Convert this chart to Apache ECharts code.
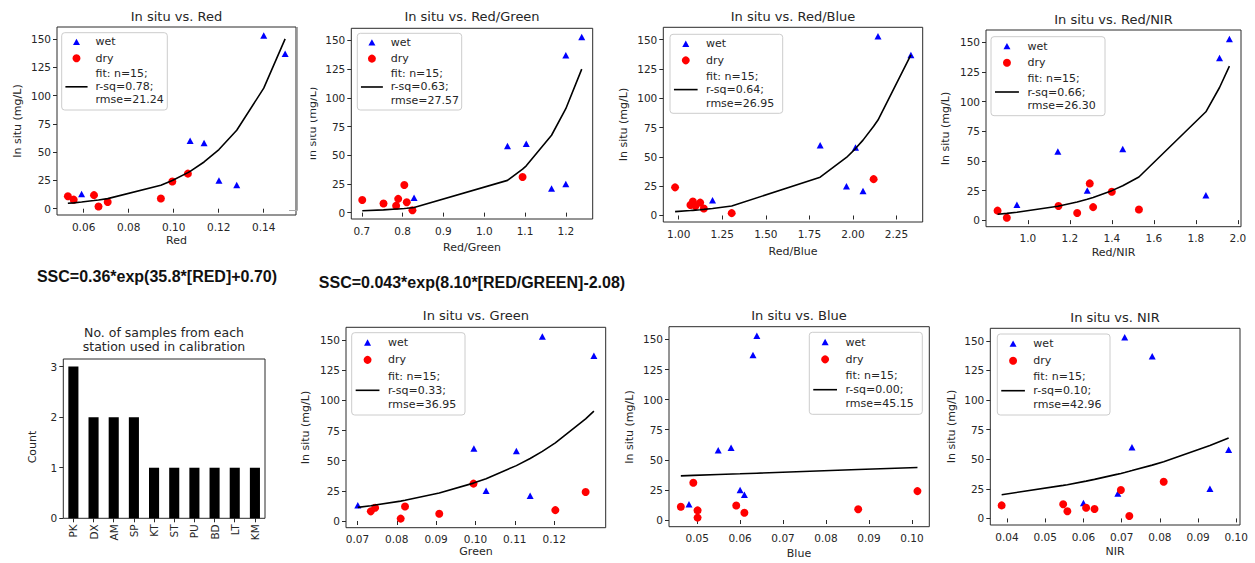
<!DOCTYPE html>
<html><head><meta charset="utf-8">
<script src="https://cdn.jsdelivr.net/npm/echarts@6/dist/echarts.min.js"></script>
<style>html,body{margin:0;padding:0;background:#fff}#c{width:1255px;height:563px}</style>
</head><body><div id="c"></div>
<script>
// ================= DATA =================
const yTicks = ['0','25','50','75','100','125','150'];

// In situ vs. Red
const redTicks = ['0.06','0.08','0.10','0.12','0.14'];
const redWetX = [0.0591,0.1073,0.1135,0.1201,0.1280,0.1400,0.1495];
const redWetY = [13,60,58,25,21,153,137];
const redDryX = [0.0530,0.0556,0.0646,0.0666,0.0707,0.0943,0.0994,0.1063];
const redDryY = [11,8,12,2,6,9,24,31];
const redFitX = [0.0530,0.0556,0.0591,0.0646,0.0666,0.0707,0.0943,0.0994,0.1063,0.1073,0.1135,0.1201,0.1280,0.1400,0.1495];
const redFitY = [4.8,5.2,5.9,7.2,7.7,8.9,20.8,24.9,31.9,33.0,41.3,52.3,69.3,106.5,150.0];

// In situ vs. Red/Green
const rgTicks = ['0.7','0.8','0.9','1.0','1.1','1.2'];
const rgWetX = [0.828,1.057,1.103,1.165,1.200,1.200,1.239];
const rgWetY = [13,58,60,21,25,137,153];
const rgDryX = [0.701,0.753,0.784,0.789,0.804,0.810,0.824,1.094];
const rgDryY = [11,8,6,12,24,9,2,31];
const rgFitX = [0.701,0.753,0.784,0.789,0.804,0.810,0.824,0.828,1.057,1.094,1.103,1.165,1.200,1.239];
const rgFitY = [1.6,2.4,3.1,3.2,3.6,3.8,4.3,4.4,28.1,37.9,40.8,67.4,90.5,125.0];

// In situ vs. Red/Blue
const rbTicks = ['1.00','1.25','1.50','1.75','2.00','2.25'];
const rbWetX = [1.194,1.812,2.015,1.963,2.058,2.144,2.333];
const rbWetY = [13,60,58,25,21,153,137];
const rbDryX = [0.979,1.067,1.081,1.096,1.123,1.144,1.304,2.119];
const rbDryY = [24,9,12,8,11,6,2,31];
const rbFitX = [0.979,1.067,1.081,1.096,1.123,1.144,1.194,1.304,1.812,1.963,2.015,2.058,2.119,2.144,2.333];
const rbFitY = [3.3,4.2,4.4,4.6,4.9,5.2,6.0,8.1,32.7,49.5,57.1,64.3,76.1,81.4,137.1];

// In situ vs. Red/NIR
const rnTicks = ['1.0','1.2','1.4','1.6','1.8','2.0'];
const rnWetX = [0.948,1.143,1.283,1.452,1.848,1.913,1.960];
const rnWetY = [13,58,25,60,21,137,153];
const rnDryX = [0.856,0.900,1.146,1.235,1.295,1.311,1.400,1.529];
const rnDryY = [8,2,12,6,31,11,24,9];
const rnFitX = [0.856,0.900,0.948,1.143,1.146,1.235,1.283,1.295,1.311,1.400,1.452,1.529,1.848,1.913,1.960];
const rnFitY = [5.0,5.7,6.6,11.7,11.8,15.3,17.6,18.3,19.2,24.9,29.0,36.4,91.5,112.0,130.0];

// In situ vs. Green
const gTicks = ['0.07','0.08','0.09','0.10','0.11','0.12'];
const gWetX = [0.0701,0.0996,0.1027,0.1104,0.1139,0.1170,0.1301];
const gWetY = [13,60,25,58,21,153,137];
const gDryX = [0.0734,0.0745,0.0810,0.0821,0.0908,0.0995,0.1203,0.1280];
const gDryY = [8,11,2,12,6,31,9,24];
const gFitX = [0.0701,0.0734,0.0745,0.0810,0.0821,0.0908,0.0995,0.1027,0.1104,0.1139,0.1170,0.1203,0.1280,0.1301];
const gFitY = [11.3,12.7,13.2,16.5,17.2,23.2,31.4,35.1,45.9,51.8,57.7,64.8,84.7,91.1];

// In situ vs. Blue
const bTicks = ['0.05','0.06','0.07','0.08','0.09','0.10'];
const bWetX = [0.0481,0.0549,0.0579,0.0600,0.0610,0.0630,0.0639];
const bWetY = [13,58,60,25,21,137,153];
const bDryX = [0.0462,0.0491,0.0501,0.0501,0.0591,0.0610,0.0875,0.1013];
const bDryY = [11,31,8,2,12,6,9,24];
const bFitX = [0.0462,0.0491,0.0549,0.0600,0.0639,0.0875,0.1013];
const bFitY = [36.7,37.1,37.8,38.4,38.9,41.9,43.6];

// In situ vs. NIR
const nTicks = ['0.04','0.05','0.06','0.07','0.08','0.09','0.10'];
const nWetX = [0.0600,0.0690,0.0708,0.0727,0.0780,0.0931,0.0980];
const nWetY = [13,21,153,60,137,25,58];
const nDryX = [0.0386,0.0547,0.0558,0.0607,0.0629,0.0698,0.0720,0.0810];
const nDryY = [11,12,6,9,8,24,2,31];
const nFitX = [0.0386,0.0547,0.0558,0.0600,0.0607,0.0629,0.0690,0.0698,0.0708,0.0720,0.0727,0.0780,0.0810,0.0931,0.0980];
const nFitY = [20.0,27.9,28.5,31.1,31.5,33.0,37.4,38.0,38.8,39.8,40.4,45.0,47.9,61.5,68.0];

// Fit statistics
const fitN = ['15','15','15','15','15','15','15'];
const fitRsq = ['0.78','0.63','0.64','0.66','0.33','0.00','0.10'];
const fitRmse = ['21.24','27.57','26.95','26.30','36.95','45.15','42.96'];

// Bar chart
const stations = ['PK','DX','AM','SP','KT','ST','PU','BD','LT','KM'];
const stationCounts = [3,2,2,2,1,1,1,1,1,1];
const countTicks = ['0','1','2','3'];

// Texts
const panelTitles = ['In situ vs. Red','In situ vs. Red/Green','In situ vs. Red/Blue','In situ vs. Red/NIR','In situ vs. Green','In situ vs. Blue','In situ vs. NIR'];
const xNames = ['Red','Red/Green','Red/Blue','Red/NIR','Green','Blue','NIR'];
const yName = 'In situ (mg/L)';
const barTitle = ['No. of samples from each','station used in calibration'];
const barYName = 'Count';
const equations = ['SSC=0.36*exp(35.8*[RED]+0.70)','SSC=0.043*exp(8.10*[RED/GREEN]-2.08)'];

// ================= LAYOUT / STYLE =================
const FONT = 'DejaVu Sans';
const TXT = '#262626';
const AX = '#2a2a2a';
const layout = {
  grids: [
    {left:57, top:27, width:239, height:188},
    {left:351.3, top:28.3, width:241.4, height:190.7},
    {left:663.3, top:27.3, width:259.4, height:194.7},
    {left:986, top:30, width:255, height:196.7},
    {left:346, top:327.3, width:259.7, height:200.4},
    {left:669, top:326.7, width:260.3, height:200},
    {left:990.3, top:328.3, width:249.7, height:196.7},
    {left:63.3, top:359, width:201.7, height:159.3}
  ],
  titles: [[176.5,16],[472,16.7],[793,16.7],[1113.5,19.3],[475.9,315],[799,315],[1115,317.7]],
  xNames: [[176.5,240.5],[472,247],[793,251],[1113.5,252],[476,551.7],[799,553],[1115,551.7]],
  yNames: [[17,121],[312,123.5],[623.3,124.5],[945,128.5],[305,427.5],[629.3,427],[951.7,426.5]],
  legends: [
    [61.7,32.7,105.6,77.3],[357.3,33.3,104.4,76.7],[670,34.3,112.7,79],[991,36.7,114,79],
    [351.7,332.7,113.3,82.3],[809.3,332.3,113,82],[997.3,334,112.7,81]
  ],
  barTitle: [164,332,346.5],
  barYName: [32,447],
  equations: [[157,276],[472,282]]
};

const sets = [
  {wx:redWetX,wy:redWetY,dx:redDryX,dy:redDryY,fx:redFitX,fy:redFitY,t:redTicks},
  {wx:rgWetX,wy:rgWetY,dx:rgDryX,dy:rgDryY,fx:rgFitX,fy:rgFitY,t:rgTicks},
  {wx:rbWetX,wy:rbWetY,dx:rbDryX,dy:rbDryY,fx:rbFitX,fy:rbFitY,t:rbTicks},
  {wx:rnWetX,wy:rnWetY,dx:rnDryX,dy:rnDryY,fx:rnFitX,fy:rnFitY,t:rnTicks},
  {wx:gWetX,wy:gWetY,dx:gDryX,dy:gDryY,fx:gFitX,fy:gFitY,t:gTicks},
  {wx:bWetX,wy:bWetY,dx:bDryX,dy:bDryY,fx:bFitX,fy:bFitY,t:bTicks},
  {wx:nWetX,wy:nWetY,dx:nDryX,dy:nDryY,fx:nFitX,fy:nFitY,t:nTicks}
];

function padRange(arr){
  const mn = Math.min(...arr), mx = Math.max(...arr), p = (mx-mn)*0.05;
  return [mn-p, mx+p];
}
function labelFmt(strs){
  const nums = strs.map(Number);
  return v => { const i = nums.findIndex(n => Math.abs(n - v) < 1e-9); return i >= 0 ? strs[i] : ''; };
}
const tickLabelStyle = {fontSize:10.5, color:TXT, fontFamily:FONT};

const grids = [], xAxes = [], yAxes = [], series = [], graphics = [];
layout.grids.forEach(g => grids.push(Object.assign({show:true, borderColor:AX, borderWidth:1, containLabel:false}, g)));

sets.forEach((s, i) => {
  const xr = padRange(s.wx.concat(s.dx));
  const yr = padRange(s.wy.concat(s.dy));
  const xv = s.t.map(Number), yv = yTicks.map(Number);
  xAxes.push({gridIndex:i, type:'value', min:xr[0], max:xr[1],
    axisLine:{show:false}, splitLine:{show:false},
    axisTick:{show:true, length:4, customValues:xv, lineStyle:{color:AX}},
    axisLabel:Object.assign({customValues:xv, margin:6, formatter:labelFmt(s.t)}, tickLabelStyle)});
  yAxes.push({gridIndex:i, type:'value', min:yr[0], max:yr[1],
    axisLine:{show:false}, splitLine:{show:false},
    axisTick:{show:true, length:4, customValues:yv, lineStyle:{color:AX}},
    axisLabel:Object.assign({customValues:yv, margin:6, formatter:labelFmt(yTicks)}, tickLabelStyle)});
  series.push({type:'scatter', name:'wet', xAxisIndex:i, yAxisIndex:i, symbol:'triangle', symbolSize:[7,6.5],
    itemStyle:{color:'#0000ff', opacity:1}, data:s.wx.map((x,k)=>[x, s.wy[k]]), silent:true, z:2});
  series.push({type:'scatter', name:'dry', xAxisIndex:i, yAxisIndex:i, symbol:'circle', symbolSize:8,
    itemStyle:{color:'#ff0000', opacity:1}, data:s.dx.map((x,k)=>[x, s.dy[k]]), silent:true, z:2});
  series.push({type:'line', name:'fit', xAxisIndex:i, yAxisIndex:i, symbol:'none', showSymbol:false,
    lineStyle:{color:'#000', width:1.6}, itemStyle:{color:'#000'}, data:s.fx.map((x,k)=>[x, s.fy[k]]), silent:true, z:3});
});

// Bar chart (grid 7)
const bv = countTicks.map(Number);
xAxes.push({gridIndex:7, type:'category', data:stations, boundaryGap:true,
  axisLine:{show:false}, splitLine:{show:false},
  axisTick:{show:true, alignWithLabel:true, length:4, lineStyle:{color:AX}},
  axisLabel:Object.assign({rotate:90, interval:0, margin:6}, tickLabelStyle)});
yAxes.push({gridIndex:7, type:'value', min:0, max:3.15,
  axisLine:{show:false}, splitLine:{show:false},
  axisTick:{show:true, length:4, customValues:bv, lineStyle:{color:AX}},
  axisLabel:Object.assign({customValues:bv, margin:6, formatter:labelFmt(countTicks)}, tickLabelStyle)});
series.push({type:'bar', xAxisIndex:7, yAxisIndex:7, data:stationCounts, barWidth:'50%',
  itemStyle:{color:'#000'}, silent:true});

// ---- text graphics ----
function txt(x, y, text, size, opts){
  const o = opts || {};
  return {type:'text', x:x, y:y, rotation:o.rot || 0, z:o.z || 5,
    style:{text:text, fontSize:size, fontFamily:o.family || FONT, fontWeight:o.weight || 'normal',
      fill:o.fill || TXT, textAlign:o.align || 'center', align:o.align || 'center',
      textVerticalAlign:'middle', verticalAlign:'middle'}};
}
panelTitles.forEach((t,i) => graphics.push(txt(layout.titles[i][0], layout.titles[i][1], t, 13)));
xNames.forEach((t,i) => graphics.push(txt(layout.xNames[i][0], layout.xNames[i][1], t, 11)));
layout.yNames.forEach(p => graphics.push(txt(p[0], p[1], yName, 11, {rot:Math.PI/2})));
graphics.push(txt(layout.barTitle[0], layout.barTitle[1], barTitle[0], 12.5));
graphics.push(txt(layout.barTitle[0], layout.barTitle[2], barTitle[1], 12.5));
graphics.push(txt(layout.barYName[0], layout.barYName[1], barYName, 11, {rot:Math.PI/2}));
equations.forEach((e,i) => graphics.push(txt(layout.equations[i][0], layout.equations[i][1], e, 16,
  {family:'Liberation Sans', weight:'bold', fill:'#111'})));

// clipped y label of the Red/Green panel + screenshot border
graphics.push({type:'rect', z:20, shape:{x:298, y:50, width:12.5, height:150}, style:{fill:'#fff'}});
graphics.push({type:'line', z:21, shape:{x1:297.5, y1:27, x2:297.5, y2:210.5}, style:{stroke:'#a8a8a8', lineWidth:1}});
graphics.push({type:'line', z:21, shape:{x1:289, y1:210.5, x2:297.5, y2:210.5}, style:{stroke:'#a8a8a8', lineWidth:1}});

// ---- legends ----
layout.legends.forEach((b,i) => {
  const [bx,by,bw,bh] = b;
  graphics.push({type:'rect', z:10, shape:{x:bx, y:by, width:bw, height:bh, r:3},
    style:{fill:'rgba(255,255,255,0.85)', stroke:'#cccccc', lineWidth:1}});
  const mx = bx + 0.14*bw, tx = bx + 0.32*bw;
  const yW = by + 0.12*bh, yD = by + 0.33*bh, y1 = by + 0.53*bh, y2 = by + 0.70*bh, y3 = by + 0.87*bh;
  graphics.push({type:'polygon', z:11, shape:{points:[[mx-3.5,yW+3.1],[mx+3.5,yW+3.1],[mx,yW-3.3]]}, style:{fill:'#0000ff'}});
  graphics.push({type:'circle', z:11, shape:{cx:mx, cy:yD, r:4}, style:{fill:'#ff0000'}});
  graphics.push({type:'line', z:11, shape:{x1:bx+0.035*bw, y1:y2, x2:bx+0.245*bw, y2:y2}, style:{stroke:'#000', lineWidth:1.6}});
  const lo = {align:'left', z:11};
  graphics.push(txt(tx, yW, 'wet', 11, lo));
  graphics.push(txt(tx, yD, 'dry', 11, lo));
  graphics.push(txt(tx, y1, 'fit: n=' + fitN[i] + ';', 11, lo));
  graphics.push(txt(tx, y2, 'r-sq=' + fitRsq[i] + ';', 11, lo));
  graphics.push(txt(tx, y3, 'rmse=' + fitRmse[i], 11, lo));
});

const chart = echarts.init(document.getElementById('c'), null, {renderer:'svg', width:1255, height:563});
chart.setOption({
  animation:false,
  backgroundColor:'#fff',
  grid:grids, xAxis:xAxes, yAxis:yAxes, series:series,
  graphic:{elements:graphics}
});
</script>
</body></html>
